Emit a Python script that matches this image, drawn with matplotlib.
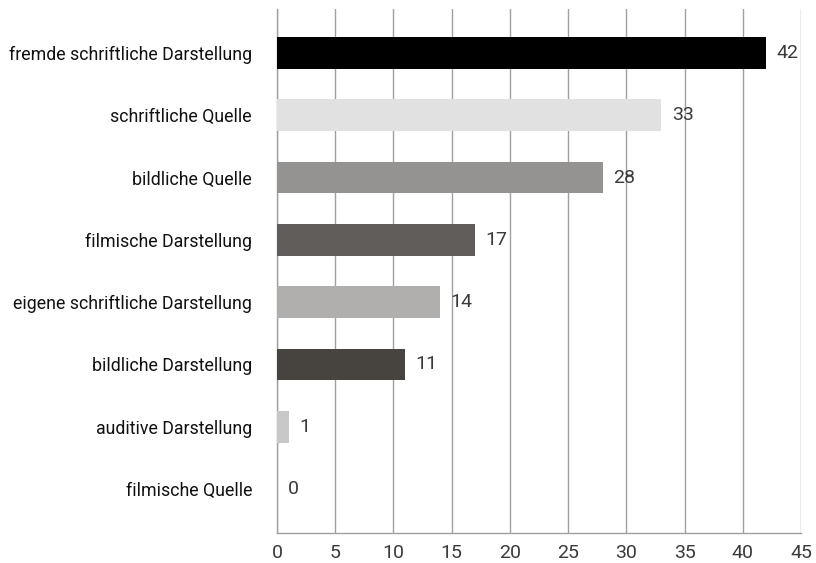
import matplotlib
matplotlib.use("Agg")
import matplotlib.pyplot as plt
import numpy as np

categories = [
    "fremde schriftliche Darstellung",
    "schriftliche Quelle",
    "bildliche Quelle",
    "filmische Darstellung",
    "eigene schriftliche Darstellung",
    "bildliche Darstellung",
    "auditive Darstellung",
    "filmische Quelle",
]
values = [42, 33, 28, 17, 14, 11, 1, 0]
colors = ["#000000", "#e1e1e1", "#949391", "#615d5a", "#b0afad", "#474440", "#c8c8c8", "#8c8c8c"]
xticks = [0, 5, 10, 15, 20, 25, 30, 35, 40, 45]

plt.rcParams["font.family"] = ["Roboto", "DejaVu Sans"]

fig = plt.figure(figsize=(8.16, 5.63), dpi=100)
ax = fig.add_axes([277 / 816, 30 / 563, 524 / 816, 524 / 563])

y = np.arange(len(categories))
ax.barh(y, values, height=0.51, color=colors, zorder=3)
for yi, v in zip(y, values):
    ax.text(v + 0.9, yi, str(v), va="center", ha="left", fontsize=14,
            color="#3a3a3a", zorder=4)

ax.set_ylim(len(categories) - 1 + 0.706, -0.706)
ax.set_xlim(0, 45)
ax.set_xticks(xticks)
ax.set_yticks(y)
ax.set_yticklabels(categories, fontsize=12.8, color="#111111")
ax.tick_params(axis="y", length=0, pad=18)
ax.tick_params(axis="x", length=0, pad=8, labelsize=14, labelcolor="#3a3a3a")

ax.grid(axis="x", color="#a0a0a0", linewidth=1.0, zorder=0)
for s in ["top", "right"]:
    ax.spines[s].set_visible(False)
for s in ["left", "bottom"]:
    ax.spines[s].set_color("#a0a0a0")
    ax.spines[s].set_linewidth(1.0)

fig.savefig("out.png", dpi=100)
